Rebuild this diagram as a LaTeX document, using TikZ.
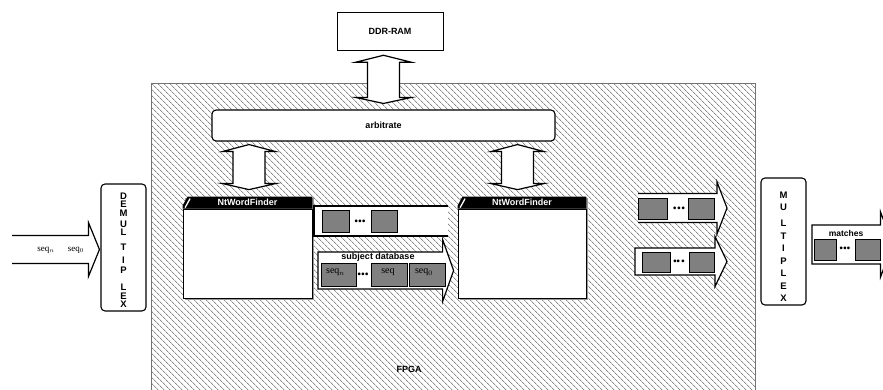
\documentclass[tikz,border=0pt]{standalone}
\usepackage{fontspec}
\setmainfont{Liberation Sans}
\newfontfamily\seqfont{Liberation Serif}
\usetikzlibrary{patterns.meta,calc}
\tikzset{
 lab/.style={font=\fontsize{9}{10}\selectfont\bfseries, inner sep=0pt},
 plainbox/.style={draw, line width=0.6pt, fill=white, inner sep=0pt},
 rbox/.style={draw, line width=1.1pt, fill=white, rounded corners=4pt, inner sep=0pt},
 wbody/.style={draw, line width=0.8pt, fill=white, inner sep=0pt},
 sq/.style={draw, line width=0.8pt, fill=black!50, inner sep=0pt},
 blk/.style={draw, line width=1.2pt, fill=white, line join=miter},
 seqlbl/.style={font=\seqfont\fontsize{9}{10}\selectfont, inner sep=0pt},
 sqlbl/.style={font=\seqfont\fontsize{10}{10}\selectfont, inner sep=0pt},
 dotsn/.style={font=\fontsize{9.5}{10}\selectfont\bfseries, inner sep=0pt},
 hatch/.style={pattern={Lines[angle=-45,distance=4pt,line width=0.55pt]}, pattern color=black!70},
}
% vertical double arrow between two named coordinates
\newcommand\dblarrow[3]{%
 \draw[blk] let \p1=(#1), \p2=(#2) in (\p1) -- (\x1+#3pt,\y1-7pt) -- (\x1+16pt,\y1-7pt)
  -- (\x1+16pt,\y2+6pt) -- (\x1+#3pt,\y2+6pt) -- (\x1,\y2) -- (\x1-#3pt,\y2+6pt)
  -- (\x1-16pt,\y2+6pt) -- (\x1-16pt,\y1-7pt) -- (\x1-#3pt,\y1-7pt) -- cycle;}
% closed block arrow: tip, start x, half shaft, half wing, head length
\newcommand\blockarrow[5]{%
 \draw[blk] let \p1=(#1) in (\p1) -- (\x1-#5pt,\y1+#4pt) -- (\x1-#5pt,\y1+#3pt)
  -- (#2pt,\y1+#3pt) -- (#2pt,\y1-#3pt) -- (\x1-#5pt,\y1-#3pt) -- (\x1-#5pt,\y1-#4pt) -- cycle;}
% block arrow open at its tail
\newcommand\openarrow[5]{%
 \fill[white] let \p1=(#1) in (\p1) -- (\x1-#5pt,\y1+#4pt) -- (\x1-#5pt,\y1+#3pt)
  -- (#2pt,\y1+#3pt) -- (#2pt,\y1-#3pt) -- (\x1-#5pt,\y1-#3pt) -- (\x1-#5pt,\y1-#4pt) -- cycle;
 \draw[line width=1.2pt, line join=miter] let \p1=(#1) in (#2pt,\y1+#3pt) -- (\x1-#5pt,\y1+#3pt)
  -- (\x1-#5pt,\y1+#4pt) -- (\p1) -- (\x1-#5pt,\y1-#4pt) -- (\x1-#5pt,\y1-#3pt) -- (#2pt,\y1-#3pt);}

\begin{document}
\begin{tikzpicture}[x=1pt,y=-1pt]
\useasboundingbox (0,0) rectangle (883,390);
\clip (0,0) rectangle (883,390);
\fill[white] (0,0) rectangle (883,390);

% FPGA area
\node[hatch, draw=black!55, line width=0.8pt, minimum width=604pt, minimum height=320pt,
      anchor=north west, inner sep=0pt] (fpga) at (151,83) {};
\node[lab] (fpgalbl) at (409,369) {FPGA};

% DDR-RAM and arbitrate
\node[plainbox, lab, minimum width=106pt, minimum height=38pt] (ddr) at (390,31) {DDR-RAM};
\node[rbox, lab, minimum width=343pt, minimum height=31pt] (arb) at (383.5,125.5) {arbitrate};

% shadows of the NtWordFinder boxes
\fill[black!40] (184.5,198.5) rectangle (313.5,299.5);
\fill[black!40] (459.5,198.5) rectangle (587.5,299.5);

% NtWordFinder boxes
\node[wbody, minimum width=129pt, minimum height=89pt] (nw1) at (247.5,253.5) {};
\node[wbody, minimum width=128pt, minimum height=89pt] (nw2) at (522,253.5) {};
\fill ($(nw1.north west)$) -- ($(nw1.north west)+(0,-3)$) -- ($(nw1.north west)+(5,-12)$)
  -- ($(nw1.north east)+(0,-12)$) -- (nw1.north east) -- cycle;
\draw[white, line width=1.3pt] ($(nw1.north west)+(2.5,-1)$) -- ($(nw1.north west)+(7.5,-10)$);
\node[lab, text=white] (t1) at ($(nw1.north)+(0,-6)$) {NtWordFinder};
\fill ($(nw2.north west)$) -- ($(nw2.north west)+(0,-3)$) -- ($(nw2.north west)+(5,-12)$)
  -- ($(nw2.north east)+(0,-12)$) -- (nw2.north east) -- cycle;
\draw[white, line width=1.3pt] ($(nw2.north west)+(2.5,-1)$) -- ($(nw2.north west)+(7.5,-10)$);
\node[lab, text=white] (t2) at ($(nw2.north)+(0,-6)$) {NtWordFinder};

% double arrows
\coordinate (ddrT) at ($(ddr.south -| arb.north)+(0,5)$);
\coordinate (ddrB) at ($(arb.north)+(0,-6)$);
\dblarrow{ddrT}{ddrB}{28}
\coordinate (l1T) at ($(arb.south -| nw1.north)+(1.5,3)$);
\coordinate (l1B) at ($(nw1.north)+(1.5,-19)$);
\dblarrow{l1T}{l1B}{26.5}
\coordinate (l2T) at ($(arb.south -| nw2.north)+(-4.5,3)$);
\coordinate (l2B) at ($(nw2.north)+(-4.5,-19)$);
\dblarrow{l2T}{l2B}{26.5}

% multiplexers
\node[rbox, minimum width=45pt, minimum height=127pt] (demux) at (123.5,247.5) {};
\node[lab, align=center, font=\fontsize{9.5}{8.5}\selectfont\bfseries] (demuxtxt) at (123.5,250)
  {D\\E\\M\\[2.5pt]U\\L\\[6.5pt]T\\[4.5pt]I\\[1.5pt]P\\[8.5pt]L\\E\\X};
\node[rbox, minimum width=45pt, minimum height=127pt] (mux) at (783.5,241.5) {};
\node[lab, align=center, font=\fontsize{9.5}{12.5}\selectfont\bfseries] (muxtxt) at (783.5,246.5)
  {M\\U\\[3.5pt]L\\T\\I\\P\\L\\E\\X};

% input sequences
\coordinate (intip) at ($(demux.west)+(-1,2)$);
\openarrow{intip}{12}{14}{27}{11}
\node[seqlbl] (inn) at (46,250) {seq$_n$};
\node[seqlbl] (in0) at (76,250) {seq$_0$};

% upper middle stream (its head is hidden, tail open on the right)
\fill[white] (314,206) rectangle (448,236);
\draw[line width=1.4pt] (448,206) -- (314,206) -- (314,236) -- (448,236);
\node[sq, minimum width=27pt, minimum height=22pt] (m1) at (335.5,221) {};
\node[dotsn] (md) at (360,222) {•\kern0.4pt•\kern0.4pt•};
\node[sq, minimum width=26pt, minimum height=22pt] (m2) at (384,221) {};

% subject database
\coordinate (sdtip) at ($(nw2.west)+(-4,17)$);
\blockarrow{sdtip}{318}{18.5}{31}{11}
\node[lab] (sdl) at (378,257) {subject database};
\node[sq, minimum width=35pt, minimum height=23pt] (sn) at (338.5,274.5) {};
\node[sqlbl] (snl) at ($(sn.center)+(-3,-2)$) {seq$_n$};
\node[dotsn] (sdd) at (363,275) {•\kern0.4pt•\kern0.4pt•};
\node[sq, minimum width=36pt, minimum height=23pt] (ss) at (389,274.5) {};
\node[sqlbl] (ssl) at ($(ss.center)+(-1,-2)$) {seq};
\node[sq, minimum width=36pt, minimum height=23pt] (s0) at (427,274.5) {};
\node[sqlbl] (s0l) at ($(s0.center)+(-3,-2)$) {seq$_0$};

% right streams
\coordinate (r1tip) at (727,208);
\openarrow{r1tip}{638}{14.5}{26}{10}
\node[sq, minimum width=29pt, minimum height=21pt] (r1a) at (652.5,208.5) {};
\node[dotsn] (r1d) at (679,209.5) {•\kern1pt•\kern1pt•};
\node[sq, minimum width=26pt, minimum height=21pt] (r1b) at (701,208.5) {};

\coordinate (r2tip) at (727,261.5);
\blockarrow{r2tip}{635}{13.5}{25}{12}
\node[sq, minimum width=28pt, minimum height=20pt] (r2a) at (656,262) {};
\node[dotsn] (r2d) at (679,262.5) {••\kern1.5pt•};
\node[sq, minimum width=25pt, minimum height=20pt] (r2b) at (701.5,262) {};

% matches
\coordinate (mtip) at ($(mux.east)+(86,3)$);
\blockarrow{mtip}{812}{19.5}{32.5}{12}
\node[lab, font=\fontsize{8.5}{10}\selectfont\bfseries] (ml) at (846,233) {matches};
\node[sq, minimum width=22pt, minimum height=21pt] (ma) at (825,249.5) {};
\node[dotsn] (mdd) at (845,249.5) {•\kern0.3pt•\kern0.3pt•};
\node[sq, minimum width=25pt, minimum height=21pt] (mb) at (867.5,249.5) {};
\end{tikzpicture}
\end{document}
